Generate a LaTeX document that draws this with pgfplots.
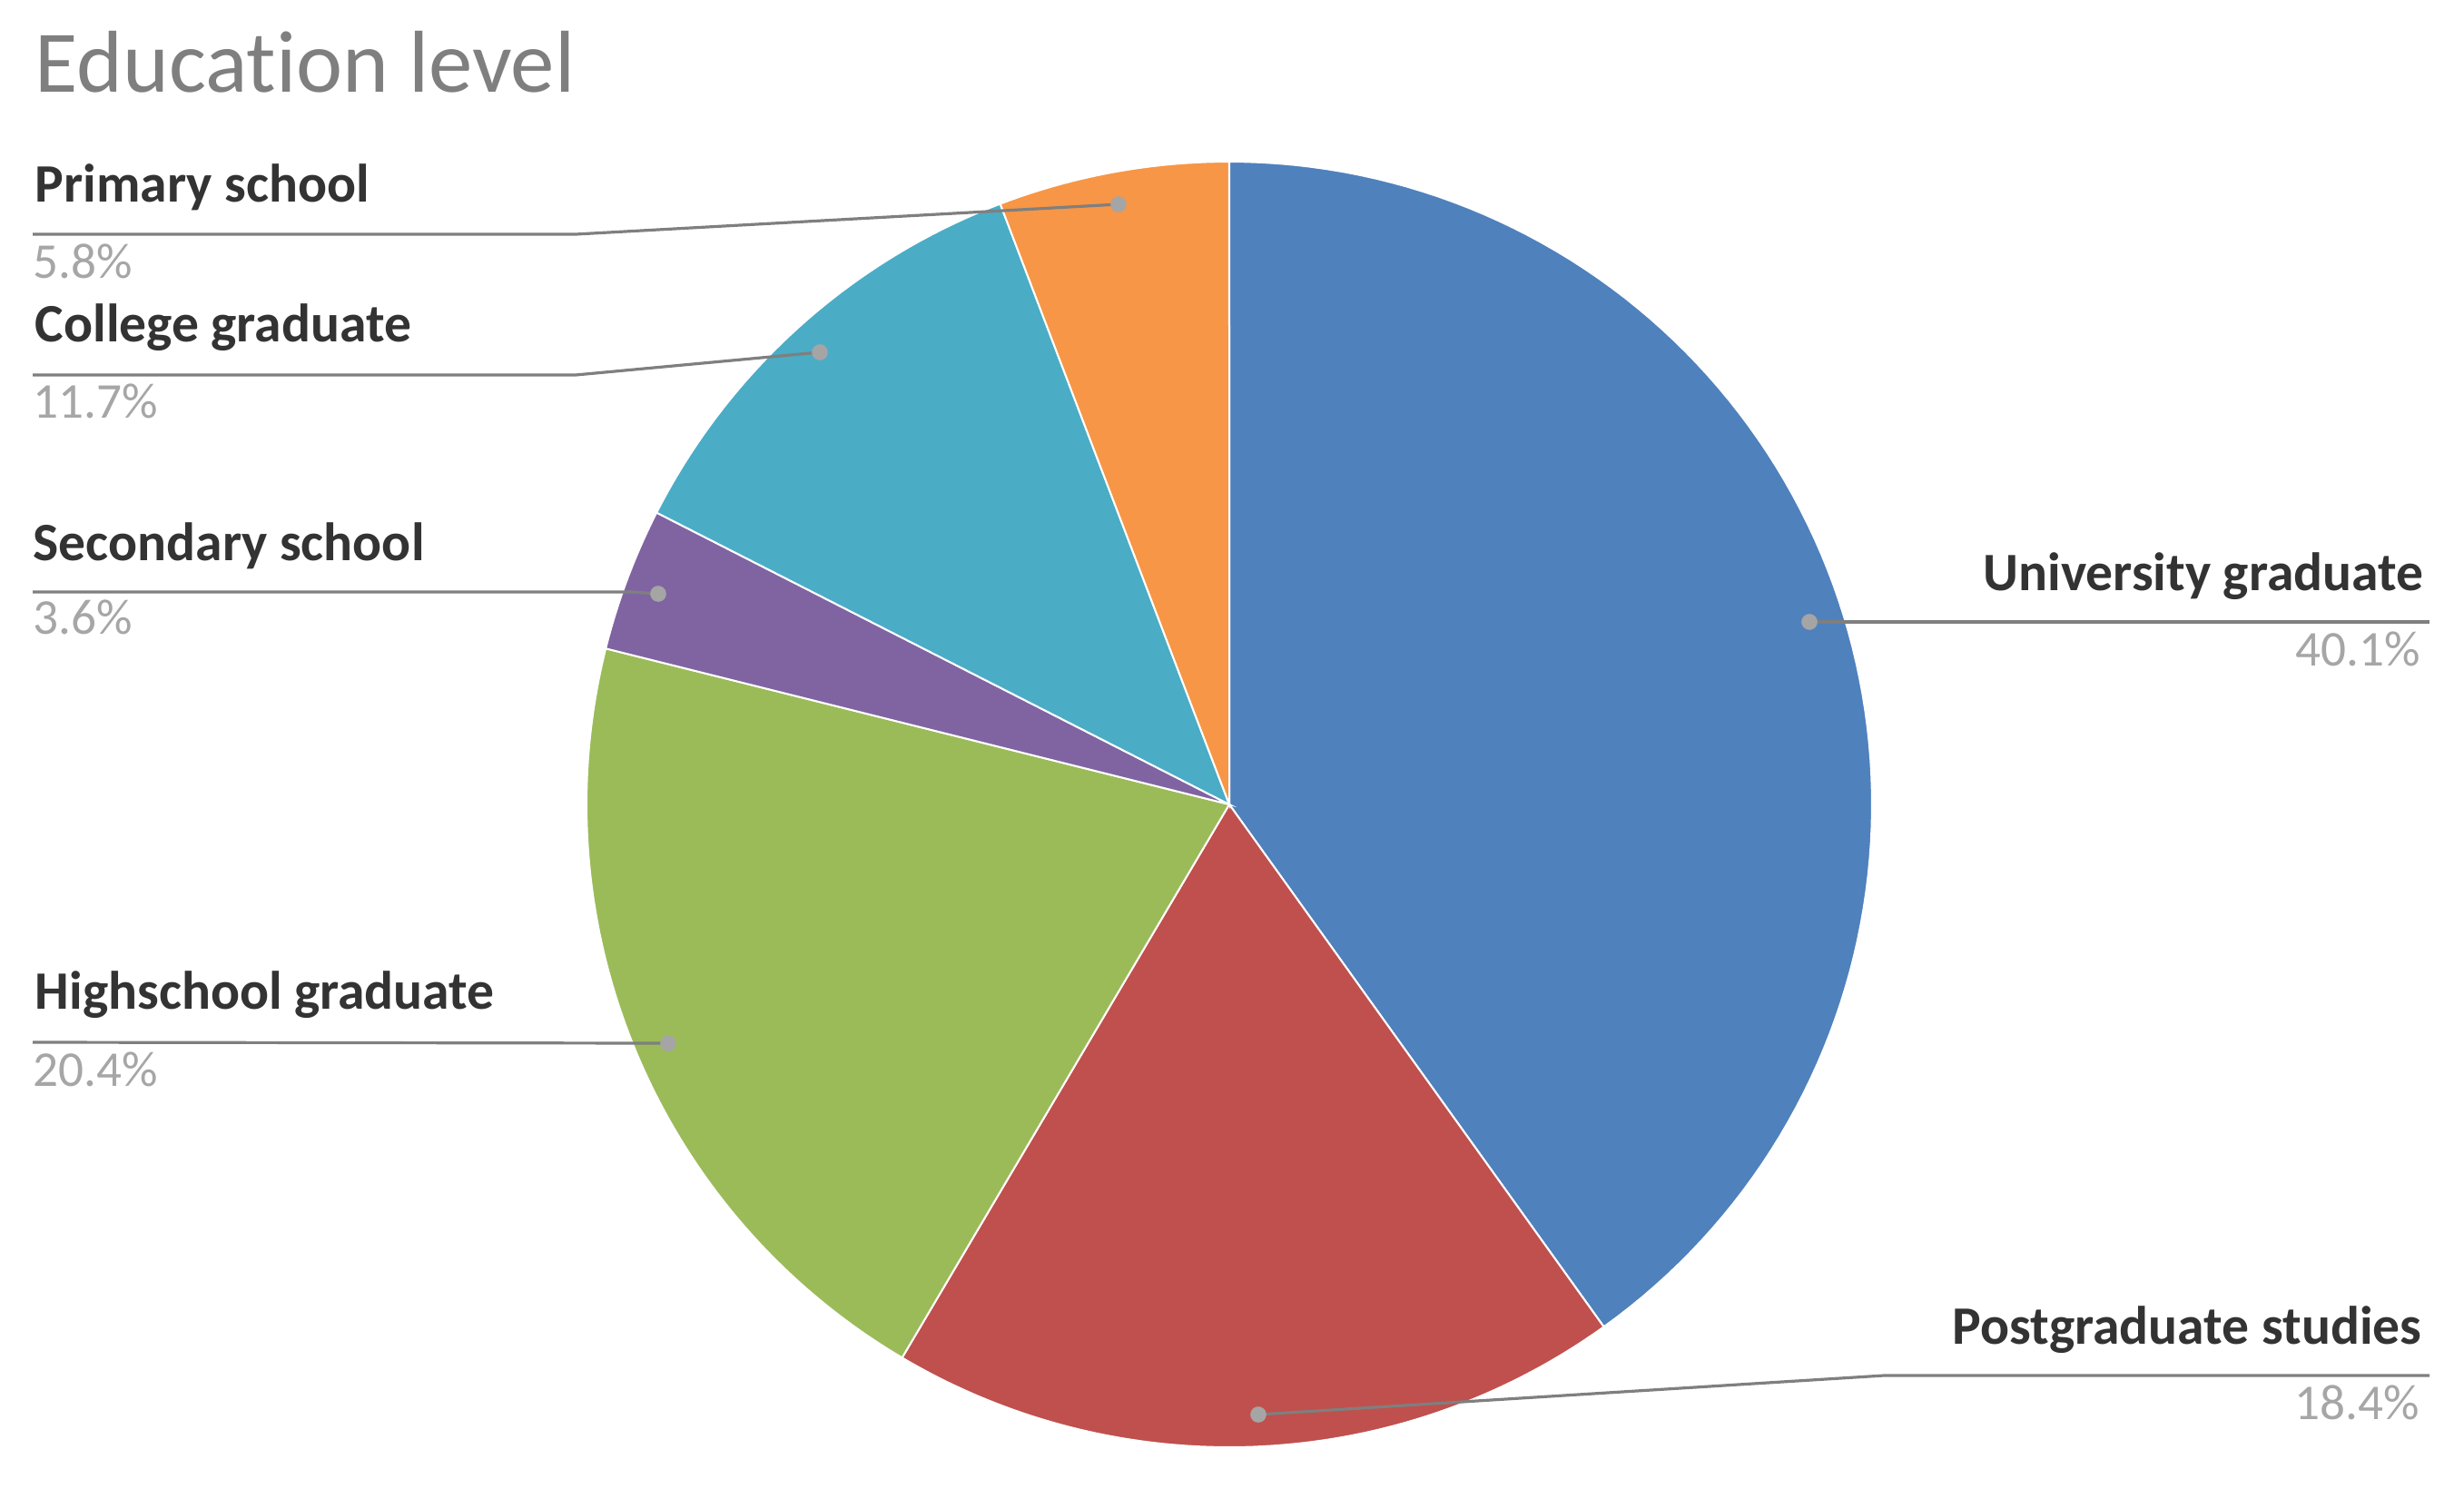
\documentclass[border=0pt]{standalone}
\usepackage{pgfplots}
\pgfplotsset{compat=1.18}
\usepackage{fontspec}
\setmainfont[Ligatures=NoCommon]{Carlito}
\definecolor{cUni}{HTML}{4F81BD}
\definecolor{cPost}{HTML}{C0504D}
\definecolor{cHigh}{HTML}{9BBB59}
\definecolor{cSec}{HTML}{8064A2}
\definecolor{cCol}{HTML}{4BACC6}
\definecolor{cPri}{HTML}{F79646}
\definecolor{titlegray}{HTML}{7F7F7F}
\definecolor{labdark}{HTML}{333333}
\definecolor{pctgray}{HTML}{A6A6A6}
\definecolor{linegray}{HTML}{7F7F7F}
\definecolor{dotgray}{HTML}{A5A5A5}
% slice: colour, cumulative start (%), value (%)
\newcommand{\slice}[3]{%
  \addplot[fill=#1, draw=white, line width=0.5pt, domain={-90+3.6*#2}:{-90+3.6*(#2+#3)}, samples=100, variable=\t]
    ({1354+708*cos(\t)},{886+708*sin(\t)}) -- (axis cs:1354,886) -- cycle;}
\begin{document}
\begin{tikzpicture}
\begin{axis}[width=678.5pt, height=410pt, scale only axis,
  xmin=0, xmax=2714, ymin=0, ymax=1640, y dir=reverse,
  hide axis, clip=false]
\draw[draw=none] (axis cs:0,0) rectangle (axis cs:2714,1640);
% values: University 40.1, Postgraduate 18.4, Highschool 20.4, Secondary 3.6, College 11.7, Primary 5.8
\slice{cUni}{0}{40.1}
\slice{cPost}{40.1}{18.4}
\slice{cHigh}{58.5}{20.4}
\slice{cSec}{78.9}{3.6}
\slice{cCol}{82.5}{11.7}
\slice{cPri}{94.2}{5.8}
% leader lines
\pgfplotsset{leader/.style={linegray, line width=0.8pt, mark=*, mark indices={1}, mark size=1.8pt, mark options={fill=dotgray, draw=dotgray}}}
\addplot[leader] coordinates {(1232,225) (634,258) (36,258)};
\addplot[leader] coordinates {(903,388) (634,413) (36,413)};
\addplot[leader] coordinates {(725,654) (696,652) (36,652)};
\addplot[leader] coordinates {(736,1149) (36,1148)};
\addplot[leader] coordinates {(1993,685) (2676,685)};
\addplot[leader] coordinates {(1386,1558) (2075,1515) (2676,1515)};
% title
\node[anchor=base west, inner sep=0pt, text=titlegray, font=\fontsize{24.2}{28}\selectfont] at (axis cs:38,101) {Education level};
% labels
\tikzset{lb/.style={inner sep=0pt, text=labdark, font=\fontsize{14.9}{17}\selectfont\bfseries},
         pc/.style={inner sep=0pt, text=pctgray, font=\fontsize{13.8}{16}\selectfont}}
\node[lb, anchor=base west] at (axis cs:38,222) {Primary school};
\node[pc, anchor=base west] at (axis cs:36,306) {5.8\%};
\node[lb, anchor=base west] at (axis cs:38,376) {College graduate};
\node[pc, anchor=base west] at (axis cs:36,460) {11.7\%};
\node[lb, anchor=base west] at (axis cs:36,617) {Secondary school};
\node[pc, anchor=base west] at (axis cs:36,698) {3.6\%};
\node[lb, anchor=base west] at (axis cs:38,1111) {Highschool graduate};
\node[pc, anchor=base west] at (axis cs:36,1196) {20.4\%};
\node[lb, anchor=base east] at (axis cs:2670,650) {University graduate};
\node[pc, anchor=base east] at (axis cs:2667,733) {40.1\%};
\node[lb, anchor=base east] at (axis cs:2668,1480) {Postgraduate studies};
\node[pc, anchor=base east] at (axis cs:2666,1563) {18.4\%};
\end{axis}
\end{tikzpicture}
\end{document}
